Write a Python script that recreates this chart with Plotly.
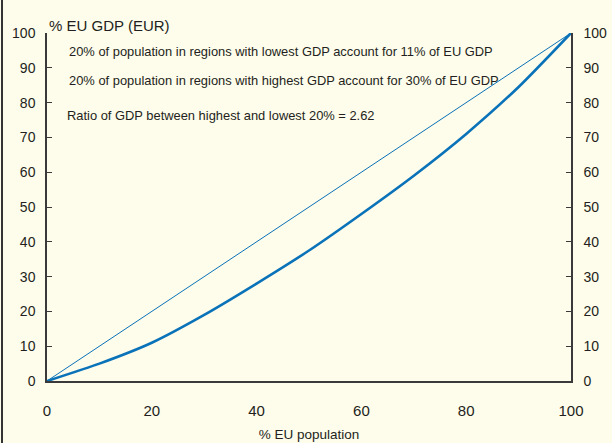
import plotly.graph_objects as go

population_pct = [0, 10, 20, 30, 40, 50, 60, 70, 80, 90, 100]
gdp_pct = [0, 5, 11, 19, 28, 37.5, 48, 59, 71, 84.5, 100]
equality_x = [0, 100]
equality_y = [0, 100]

tick_vals_y = [0, 10, 20, 30, 40, 50, 60, 70, 80, 90, 100]
tick_vals_x = [0, 20, 40, 60, 80, 100]

notes = [
    "20% of population in regions with lowest GDP account for 11% of EU GDP",
    "20% of population in regions with highest GDP account for 30% of EU GDP",
    "Ratio of GDP between highest and lowest 20% = 2.62",
]

BG = "#FEFCEB"
LINE = "#0A72B8"
AX = "#3a3a3a"
TXT = "#231F20"
FONT = "Liberation Sans, Arial, sans-serif"

fig = go.Figure()
fig.add_trace(go.Scatter(x=equality_x, y=equality_y, mode="lines",
                         line=dict(color=LINE, width=1), showlegend=False))
fig.add_trace(go.Scatter(x=population_pct, y=gdp_pct, mode="lines",
                         line=dict(color=LINE, width=2.6, shape="spline", smoothing=0.6),
                         showlegend=False))
# invisible trace to activate right axis
fig.add_trace(go.Scatter(x=[0], y=[0], yaxis="y2", mode="markers",
                         marker=dict(opacity=0), showlegend=False, hoverinfo="skip"))

fig.update_layout(
    width=612, height=443,
    margin=dict(l=47, r=41, t=33, b=62, autoexpand=False),
    paper_bgcolor=BG, plot_bgcolor=BG,
    font=dict(family=FONT, size=14, color=TXT),
    xaxis=dict(range=[0, 100], tickvals=tick_vals_x, showgrid=False, zeroline=False,
               showline=True, linecolor=AX, linewidth=1.5, ticks="", automargin=False,
               ticklabelstandoff=15, tickfont=dict(size=15),
               title=dict(text="% EU population", font=dict(size=13.5), standoff=12)),
    yaxis=dict(range=[0, 100], tickvals=tick_vals_y, showgrid=False, zeroline=False,
               showline=True, linecolor=AX, linewidth=1.5, ticks="inside", automargin=False,
               ticklen=5, tickcolor=AX, tickwidth=1.2, ticklabelstandoff=7),
    yaxis2=dict(range=[0, 100], tickvals=tick_vals_y, overlaying="y", side="right",
                showgrid=False, zeroline=False, showline=True, linecolor=AX, automargin=False,
                linewidth=1.5, ticks="inside", ticklen=5, tickcolor=AX, tickwidth=1.2,
                ticklabelstandoff=8),
)

fig.add_annotation(text="% EU GDP (EUR)", xref="paper", yref="paper", x=0.0, y=1.0,
                   xanchor="left", yanchor="bottom", showarrow=False, yshift=-3,
                   font=dict(size=15, color=TXT))
note_pos = [(20 / 524, 51), (20 / 524, 80), (18 / 524, 115)]
for txt, (px, py) in zip(notes, note_pos):
    fig.add_annotation(text=txt, xref="paper", yref="paper", x=px,
                       y=(381 - py) / 348, xanchor="left", yanchor="middle",
                       showarrow=False, font=dict(size=12.9, color=TXT))

# left frame border
fig.add_shape(type="line", xref="paper", yref="paper",
              x0=(2 - 47) / 524, x1=(2 - 47) / 524, y0=(381 - 0) / 348, y1=(381 - 443) / 348,
              line=dict(color="#333333", width=2))

fig.write_html(
    "out.html",
    config={"displayModeBar": False},
    post_script="document.body.style.margin='0';document.body.style.background='#FEFCEB';",
)
